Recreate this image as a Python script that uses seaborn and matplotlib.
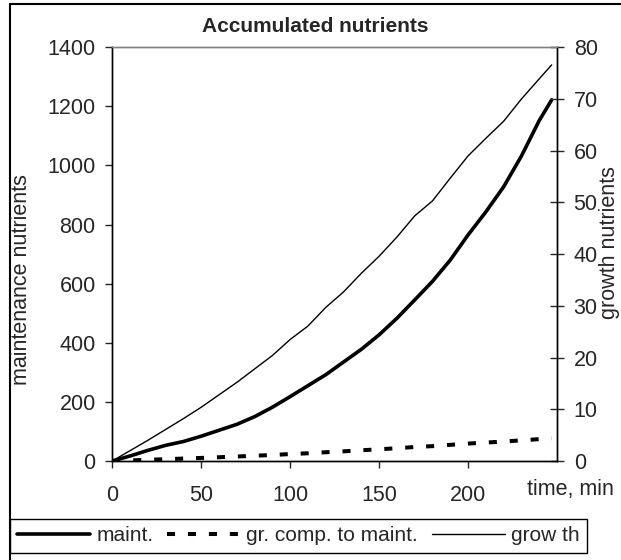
import matplotlib
matplotlib.use('Agg')
import matplotlib.pyplot as plt
import pandas as pd
import seaborn as sns
from matplotlib.patches import Rectangle

# values
time_min = [0, 10, 20, 30, 40, 50, 60, 70, 80, 90, 100, 110, 120,
            130, 140, 150, 160, 170, 180, 190, 200, 210, 220, 230, 240, 247]
maint = [0, 17, 36, 53, 66, 84, 104, 124, 150, 182, 218, 255, 292,
         335, 378, 427, 483, 545, 608, 680, 765, 843, 928, 1032, 1152, 1222]
growth = [0, 2.0, 4.0, 6.1, 8.2, 10.4, 12.8, 15.2, 17.8, 20.4, 23.5, 26.1, 29.7,
          32.7, 36.3, 39.6, 43.3, 47.4, 50.3, 54.7, 59.0, 62.4, 65.7, 70.0, 73.9, 76.6]

left_ticks = list(range(0, 1401, 200))
right_ticks = list(range(0, 81, 10))
x_ticks = [0, 50, 100, 150, 200]

FS = 15.5
W, H = 621, 560

sns.set_style('ticks')
plt.rcParams['font.family'] = ['Liberation Sans', 'DejaVu Sans']

df = pd.DataFrame({'time': time_min, 'maint': maint, 'growth': growth})

fig = plt.figure(figsize=(W / 100, H / 100), dpi=100)
ax = fig.add_axes([112.3 / W, 1 - 461 / H, (557 - 112.3) / W, (461 - 47.3) / H])
ax2 = ax.twinx()

sns.lineplot(data=df, x='time', y='maint', ax=ax, color='black', lw=2.6,
             legend=False)
sns.lineplot(data=df, x='time', y='growth', ax=ax, color='black', lw=2.9,
             linestyle=(0, (2, 3.2)), legend=False)
sns.lineplot(data=df, x='time', y='growth', ax=ax2, color='black', lw=1.0,
             legend=False)
ax.lines[1].set_dash_capstyle('butt')

ax.set_xlim(0, 250)
ax.set_ylim(0, 1400)
ax2.set_ylim(0, 80)
ax.set_xticks(x_ticks)
ax.set_yticks(left_ticks)
ax2.set_yticks(right_ticks)
ax.set_xlabel('')
ax.set_ylabel('')
ax2.set_ylabel('')

ax.tick_params(axis='y', direction='out', length=5, width=1, pad=7,
               labelsize=FS, left=True)
ax.tick_params(axis='x', direction='out', length=5, width=1, pad=12,
               labelsize=FS, bottom=True)
ax2.tick_params(axis='y', direction='inout', length=10, width=1, pad=7,
                labelsize=FS, right=True)

for a in (ax, ax2):
    for s in a.spines.values():
        s.set_visible(True)
        s.set_color('black')
        s.set_linewidth(1.0)
    a.spines['top'].set_color('#808080')

# texts
fig.text(315 / W, 1 - 27 / H, 'Accumulated nutrients', ha='center',
         va='center', fontsize=15, fontweight='bold')
fig.text(22 / W, 1 - 280 / H, 'maintenance nutrients', ha='center',
         va='center', rotation=90, fontsize=FS)
fig.text(609.5 / W, 1 - 243 / H, 'growth nutrients', ha='center',
         va='center', rotation=90, fontsize=FS)
fig.text(527 / W, 1 - 490 / H, 'time, min', ha='left', va='center',
         fontsize=FS)

# legend
handles = [ax.lines[0], ax.lines[1], ax2.lines[0]]
labels = ['maint.', 'gr. comp. to maint.', 'grow th']
leg = fig.legend(handles, labels, loc='upper left',
                 bbox_to_anchor=(10 / W, 1 - 519 / H), ncol=3,
                 frameon=True, fancybox=False, edgecolor='black',
                 framealpha=1, fontsize=15, handlelength=3.5,
                 handletextpad=0.3, columnspacing=0.65, borderpad=0.35,
                 borderaxespad=0)
leg.get_frame().set_linewidth(1.0)

# chart area border
fig.add_artist(Rectangle((10 / W, -0.1), 1.0, 1 - 4 / H + 0.1,
                         transform=fig.transFigure, fill=False,
                         ec='black', lw=1.5, zorder=0))

fig.savefig('out.png', dpi=100)
